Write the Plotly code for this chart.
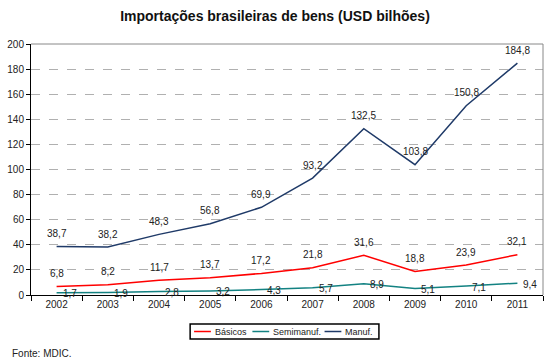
import plotly.graph_objects as go

anos = ["2002", "2003", "2004", "2005", "2006", "2007", "2008", "2009", "2010", "2011"]
basicos = [6.8, 8.2, 11.7, 13.7, 17.2, 21.8, 31.6, 18.8, 23.9, 32.1]
semimanuf = [1.7, 1.9, 2.8, 3.2, 4.3, 5.7, 8.9, 5.1, 7.1, 9.4]
manuf = [38.7, 38.2, 48.3, 56.8, 69.9, 93.2, 132.5, 103.8, 150.8, 184.8]

series = [
    ("Básicos", basicos, "#FF0000"),
    ("Semimanuf.", semimanuf, "#138282"),
    ("Manuf.", manuf, "#1F3A68"),
]

W, H = 550, 361
ML, MR, MT, MB = 25, 7, 44, 66
PW, PH = W - ML - MR, H - MT - MB

def px_x(x):
    return (x - ML) / PW

def px_y(y):
    return (H - MB - y) / PH

def br(v):
    return f"{v:.1f}".replace(".", ",")

fig = go.Figure()
for name, vals, color in series:
    fig.add_trace(go.Scatter(x=anos, y=vals, name=name, mode="lines",
                             line=dict(color=color, width=1.5), showlegend=False))

annotations = []
for name, vals, color in series:
    for i, v in enumerate(vals):
        if name == "Semimanuf.":
            annotations.append(dict(x=i, y=v, text=br(v), showarrow=False,
                                    xanchor="left", yanchor="middle",
                                    xshift=4, yshift=-1,
                                    font=dict(size=10, color="#222")))
        else:
            annotations.append(dict(x=i, y=v, text=br(v), showarrow=False,
                                    xanchor="center", yanchor="middle",
                                    yshift=13,
                                    font=dict(size=10, color="#222")))

annotations.append(dict(text="Fonte: MDIC.", xref="paper", yref="paper",
                        x=px_x(4), y=px_y(353), xanchor="left", yanchor="middle",
                        showarrow=False, font=dict(size=10, color="#222")))

shapes = [
    dict(type="line", xref="paper", yref="paper", x0=0, x1=1, y0=1, y1=1,
         line=dict(color="#888", width=1)),
    dict(type="line", xref="paper", yref="paper", x0=1, x1=1, y0=0, y1=1,
         line=dict(color="#888", width=1)),
    # legend box
    dict(type="rect", xref="paper", yref="paper",
         x0=px_x(186), x1=px_x(377), y0=px_y(324), y1=px_y(339),
         line=dict(color="black", width=1.5), fillcolor="white"),
]

legend_pos = [(190, 207, 209), (249, 266, 268), (322, 339, 341)]
ly = px_y(331.5)
for (name, vals, color), (l0, l1, tx) in zip(series, legend_pos):
    shapes.append(dict(type="line", xref="paper", yref="paper",
                       x0=px_x(l0), x1=px_x(l1), y0=ly, y1=ly,
                       line=dict(color=color, width=1.5)))
    annotations.append(dict(text=name, xref="paper", yref="paper",
                            x=px_x(tx), y=ly, xanchor="left", yanchor="middle",
                            showarrow=False, font=dict(size=9, color="#222")))

fig.update_layout(
    width=W, height=H,
    margin=dict(l=ML, r=MR, t=MT, b=MB),
    paper_bgcolor="white", plot_bgcolor="white",
    font=dict(family="Liberation Sans, Arial, sans-serif", size=10, color="#222"),
    title=dict(text="<b>Importações brasileiras de bens (USD bilhões)</b>",
               x=0.5, xref="container", y=0.955, yanchor="middle",
               font=dict(size=14, color="#111")),
    showlegend=False,
    annotations=annotations,
    shapes=shapes,
)
fig.update_xaxes(type="category", range=[-0.5, 9.5], showline=True, linecolor="black",
                 linewidth=1, ticks="outside", tickson="boundaries", ticklen=5,
                 tickcolor="black", showgrid=False, tickfont=dict(size=10))
fig.update_yaxes(range=[0, 200], dtick=20, showline=True, linecolor="black", linewidth=1,
                 ticks="outside", ticklen=4, tickcolor="black",
                 showgrid=True, gridcolor="#B0B0B0", griddash="dash", gridwidth=1,
                 zeroline=False, tickfont=dict(size=10))

fig.write_html("out.html", config={"displayModeBar": False},
               post_script="document.body.style.margin='0';document.body.style.overflow='hidden';")
